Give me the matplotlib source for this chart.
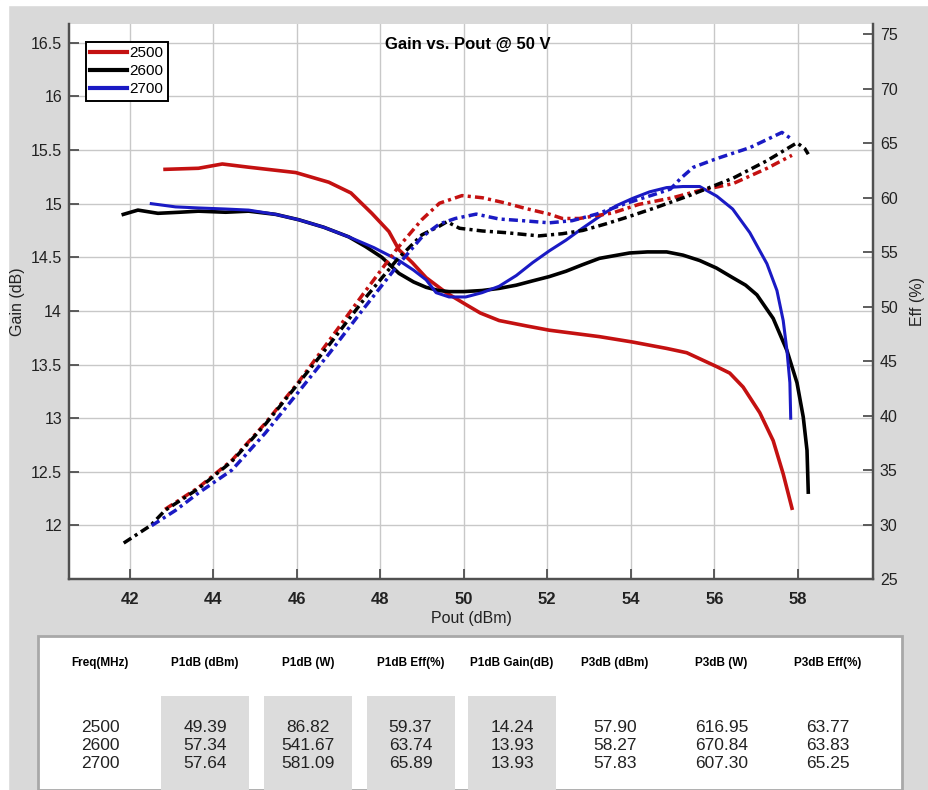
import matplotlib
matplotlib.use("Agg")
import matplotlib.pyplot as plt
from matplotlib.patches import Rectangle

plt.rcParams['font.family'] = ['Liberation Sans', 'DejaVu Sans']

# gain curves (solid, left axis)
red_gain_x = [42.85, 43.65, 44.22, 44.85, 45.98, 46.77, 47.3, 47.8, 48.21, 48.45, 48.77, 49.1, 49.58,
              50.05, 50.4, 50.85, 51.5, 52.05, 53.25, 54.04, 54.86, 55.34, 56.06, 56.37, 56.69, 57.09,
              57.41, 57.65, 57.86]
red_gain_y = [15.32, 15.33, 15.37, 15.34, 15.29, 15.20, 15.10, 14.91, 14.74, 14.57, 14.45, 14.31, 14.17,
              14.06, 13.98, 13.91, 13.86, 13.82, 13.76, 13.71, 13.65, 13.61, 13.48, 13.42, 13.29, 13.05,
              12.79, 12.48, 12.16]

black_gain_x = [41.85, 42.2, 42.68, 43.2, 43.65, 44.3, 44.85, 45.5, 46.05, 46.65, 47.25, 47.65, 48.04,
                48.45, 48.8, 49.1, 49.4, 49.65, 50.0, 50.44, 50.85, 51.26, 51.65, 52.05, 52.45, 52.84,
                53.25, 53.97, 54.4, 54.86, 55.25, 55.65, 56.05, 56.44, 56.75, 57.02, 57.41, 57.74,
                57.98, 58.13, 58.22, 58.25]
black_gain_y = [14.90, 14.94, 14.91, 14.92, 14.93, 14.92, 14.93, 14.90, 14.85, 14.78, 14.69, 14.60, 14.50,
                14.35, 14.27, 14.22, 14.19, 14.18, 14.18, 14.19, 14.21, 14.24, 14.28, 14.32, 14.37, 14.43,
                14.49, 14.54, 14.55, 14.55, 14.52, 14.47, 14.40, 14.31, 14.24, 14.15, 13.93, 13.63,
                13.33, 13.01, 12.70, 12.31]

blue_gain_x = [42.52, 43.1, 43.65, 44.3, 44.85, 45.5, 46.05, 46.65, 47.25, 47.85, 48.45, 48.8, 49.1,
               49.34, 49.65, 50.05, 50.44, 50.85, 51.26, 51.65, 52.05, 52.45, 52.84, 53.25, 53.65,
               54.05, 54.45, 54.86, 55.25, 55.65, 56.06, 56.44, 56.85, 57.26, 57.5, 57.65, 57.74,
               57.81, 57.83]
blue_gain_y = [15.00, 14.97, 14.96, 14.95, 14.94, 14.90, 14.85, 14.78, 14.69, 14.59, 14.47, 14.38, 14.29,
               14.17, 14.13, 14.13, 14.17, 14.23, 14.33, 14.45, 14.56, 14.66, 14.77, 14.88, 14.98,
               15.05, 15.11, 15.15, 15.16, 15.16, 15.07, 14.95, 14.73, 14.44, 14.19, 13.91, 13.63,
               13.33, 13.00]

# efficiency curves (dash-dot, right axis)
red_eff_x = [42.85, 43.65, 44.45, 45.25, 46.05, 46.8, 47.6, 48.4, 49.0, 49.42, 49.96, 50.45, 51.02,
             51.5, 52.05, 52.36, 52.77, 53.56, 54.2, 55.0, 55.58, 56.45, 57.26, 57.86]
red_eff = [31.4, 33.4, 35.9, 39.3, 43.1, 47.0, 51.2, 55.3, 58.0, 59.5, 60.2, 60.0, 59.5,
           59.0, 58.5, 58.1, 58.1, 58.6, 59.4, 60.0, 60.6, 61.3, 62.7, 63.9]

black_eff_x = [41.86, 42.5, 42.85, 43.65, 44.45, 45.25, 46.05, 46.8, 47.6, 48.4, 49.0, 49.42, 49.6,
               49.9, 50.45, 51.0, 51.8, 52.36, 52.85, 53.4, 53.9, 54.6, 55.4, 56.45, 57.26, 57.74,
               57.98, 58.17, 58.25]
black_eff = [28.3, 29.9, 31.3, 33.3, 35.8, 39.2, 43.0, 46.6, 50.6, 54.3, 56.6, 57.4, 57.8,
             57.2, 56.95, 56.8, 56.5, 56.7, 57.0, 57.6, 58.2, 59.1, 60.2, 61.8, 63.4, 64.5,
             65.05, 64.5, 64.0]

blue_eff_x = [42.53, 43.1, 43.65, 44.45, 45.25, 46.05, 46.8, 47.6, 48.4, 49.0, 49.42, 49.8, 50.3,
              50.85, 51.4, 52.05, 52.6, 53.18, 53.9, 54.6, 54.95, 55.2, 55.5, 56.06, 56.85, 57.62, 57.81]
blue_eff = [29.9, 31.3, 32.9, 35.0, 38.4, 42.2, 45.8, 49.8, 53.7, 56.4, 57.6, 58.1, 58.5,
            58.05, 57.9, 57.7, 57.9, 58.5, 59.5, 60.35, 60.8, 61.8, 62.8, 63.6, 64.6, 66.0, 65.5]

# summary table
col_headers = ["Freq(MHz)", "P1dB (dBm)", "P1dB (W)", "P1dB Eff(%)", "P1dB Gain(dB)",
               "P3dB (dBm)", "P3dB (W)", "P3dB Eff(%)"]
freqs = ["2500", "2600", "2700"]
p1db_dbm = ["49.39", "57.34", "57.64"]
p1db_w = ["86.82", "541.67", "581.09"]
p1db_eff = ["59.37", "63.74", "65.89"]
p1db_gain = ["14.24", "13.93", "13.93"]
p3db_dbm = ["57.90", "58.27", "57.83"]
p3db_w = ["616.95", "670.84", "607.30"]
p3db_eff = ["63.77", "63.83", "65.25"]

W, H = 929, 790
bg = "#d9d9d9"
red, black, blue = "#c41111", "#000000", "#1a1ac4"
dashdot = (0, (2.6, 1.2, 0.9, 1.2))

fig = plt.figure(figsize=(W / 100, H / 100), dpi=100, facecolor=bg)

# thin white strip at the top and left, as in the screenshot
fig.patches.append(Rectangle((0, 0), 8 / W, 1, transform=fig.transFigure, color="white", zorder=-5))
fig.patches.append(Rectangle((0, 1 - 5 / H), 1, 5 / H, transform=fig.transFigure, color="white", zorder=-5))

ax = fig.add_axes([69 / W, 1 - 579 / H, 804 / W, 555.5 / H])
ax2 = ax.twinx()

ax.plot(red_gain_x, red_gain_y, color=red, lw=2.6, label="2500")
ax.plot(black_gain_x, black_gain_y, color=black, lw=2.6, label="2600")
ax.plot(blue_gain_x, blue_gain_y, color=blue, lw=2.2, label="2700")

ax2.plot(red_eff_x, red_eff, color=red, lw=2.5, ls=dashdot)
ax2.plot(black_eff_x, black_eff, color=black, lw=2.5, ls=dashdot)
ax2.plot(blue_eff_x, blue_eff, color=blue, lw=2.5, ls=dashdot)

ax.set_xlim(40.55, 59.8)
ax.set_ylim(11.5, 16.68)
ax2.set_ylim(25, 76)

ax.set_xticks(range(42, 60, 2))
ax.set_yticks([12, 12.5, 13, 13.5, 14, 14.5, 15, 15.5, 16, 16.5])
ax.set_yticklabels(["12", "12.5", "13", "13.5", "14", "14.5", "15", "15.5", "16", "16.5"])
ax2.set_yticks(range(25, 80, 5))

ax.grid(True, color="#c8c8c8", lw=1.0)
ax.set_axisbelow(True)

for a in (ax, ax2):
    a.spines["top"].set_visible(False)
    for s in ("left", "right", "bottom"):
        a.spines[s].set_color("#505050")
        a.spines[s].set_linewidth(1.6)
ax.tick_params(axis="both", direction="in", length=7, width=1.3, colors="#505050", labelcolor="#222222")
ax2.tick_params(axis="y", direction="in", length=7, width=1.3, colors="#505050", labelcolor="#222222",
                labelsize=11.5, pad=5)
ax.tick_params(axis="y", labelsize=11.5, pad=5)
ax.tick_params(axis="x", labelsize=12, pad=9)
for t in ax.get_xticklabels():
    t.set_fontweight("bold")

ax.set_xlabel("Pout (dBm)", fontsize=11.5, labelpad=3, color="#222222")
ax.set_ylabel("Gain (dB)", fontsize=11.5, labelpad=4, color="#222222")
ax2.set_ylabel("Eff (%)", fontsize=11.5, labelpad=9, color="#222222")

fig.text(467.5 / W, 1 - 44 / H, "Gain vs. Pout @ 50 V", ha="center", va="center",
         fontsize=12, fontweight="bold")

leg = ax.legend(loc="upper left", bbox_to_anchor=(0.021, 0.967), borderaxespad=0, fancybox=False,
                edgecolor="black", framealpha=1, fontsize=11, handlelength=2.4, handletextpad=0.15,
                borderpad=0.3, labelspacing=0.25)
leg.get_frame().set_linewidth(1.4)
for h in leg.get_lines():
    h.set_linewidth(3)

# table panel
fig.patches.append(Rectangle((38 / W, 0), (902 - 38) / W, 1 - 636 / H, transform=fig.transFigure,
                             facecolor="white", edgecolor="#a8a8a8", lw=2.0, zorder=1))
col_x = [100, 205, 308, 410.5, 512, 615, 721.5, 828]
for cx in col_x[1:5]:
    fig.patches.append(Rectangle(((cx - 44) / W, 0), 88 / W, 1 - 696 / H, transform=fig.transFigure,
                                 facecolor="#dcdcdc", edgecolor="none", zorder=2))

for cx, hdr in zip(col_x, col_headers):
    fig.text(cx / W, 1 - 663 / H, hdr, ha="center", va="center", fontsize=8.5, fontweight="bold",
             zorder=3)

columns = [freqs, p1db_dbm, p1db_w, p1db_eff, p1db_gain, p3db_dbm, p3db_w, p3db_eff]
row_y = [727, 745, 763]
for cx, col in zip(col_x, columns):
    for ry, val in zip(row_y, col):
        fig.text(cx / W, 1 - ry / H, val, ha="center", va="center", fontsize=12.5, color="#222222",
                 zorder=3)

fig.savefig("out.png", dpi=100, facecolor=bg)
